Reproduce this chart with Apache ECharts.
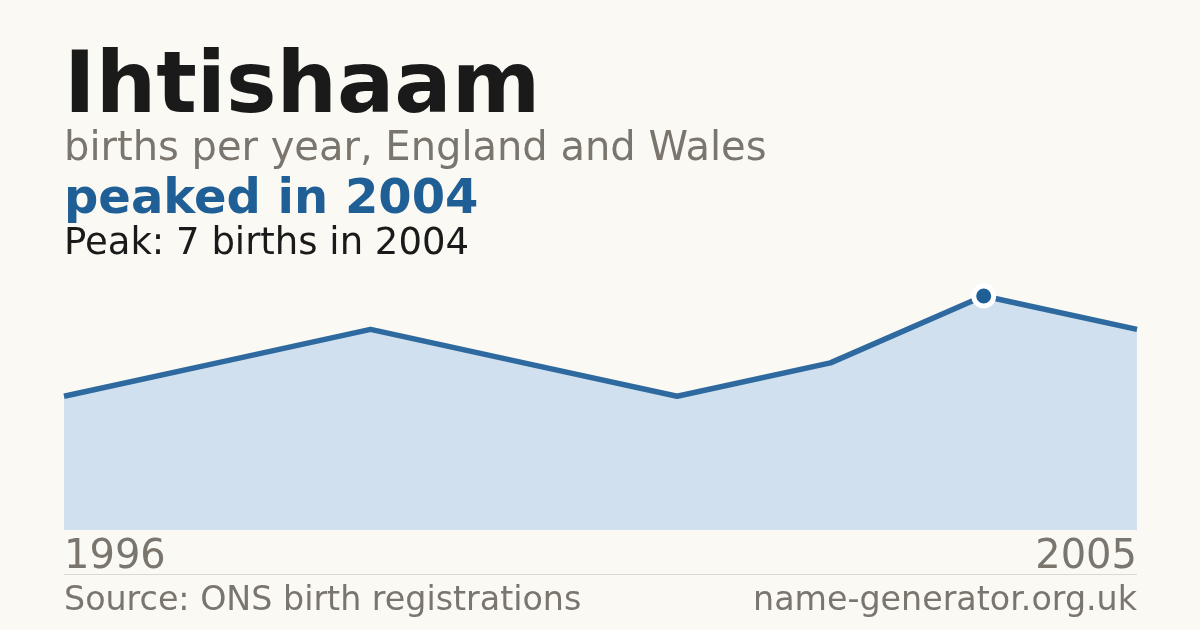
<!DOCTYPE html>
<html>
<head>
<meta charset="utf-8">
<script src="https://cdn.jsdelivr.net/npm/echarts@6/dist/echarts.min.js"></script>
<style>
    html, body { margin: 0; padding: 0; background: #faf9f4; }
    #chart { width: 1200px; height: 630px; }
</style>
</head>
<body>
<div id="chart"></div>
<script>
    // 数据
    var years = ['1996', '1997', '1998', '1999', '2000', '2003', '2004', '2005'];
    var births = [4, 5, 6, 5, 4, 5, 7, 6];
    var peakYear = '2004';
    var peakValue = 7;

    var font = 'DejaVu Sans';
    var chart = echarts.init(document.getElementById('chart'));

    var option = {
        backgroundColor: '#faf9f4',
        animation: false,
        grid: {
            left: 64,
            right: 63,
            top: 296,
            bottom: 100
        },
        xAxis: {
            type: 'category',
            data: years,
            boundaryGap: false,
            axisLine: { show: false },
            axisTick: { show: false },
            splitLine: { show: false },
            axisLabel: {
                show: true,
                interval: function (index) {
                    return index === 0 || index === years.length - 1;
                },
                alignMinLabel: 'left',
                alignMaxLabel: 'right',
                color: '#7a756d',
                fontFamily: font,
                fontSize: 40,
                margin: 8
            }
        },
        yAxis: {
            type: 'value',
            min: 0,
            max: peakValue,
            show: false
        },
        graphic: [
            {
                type: 'text',
                left: 64,
                top: 47,
                style: {
                    text: 'Ihtishaam',
                    font: 'bold 85px "DejaVu Sans"',
                    fill: '#1a1a1a'
                }
            },
            {
                type: 'text',
                left: 64,
                top: 130,
                style: {
                    text: 'births per year, England and Wales',
                    font: '40px "DejaVu Sans"',
                    fill: '#7a756d'
                }
            },
            {
                type: 'text',
                left: 64,
                top: 177,
                style: {
                    text: 'peaked in ' + peakYear,
                    font: 'bold 48px "DejaVu Sans"',
                    fill: '#1f5f96'
                }
            },
            {
                type: 'text',
                left: 64,
                top: 226,
                style: {
                    text: 'Peak: ' + peakValue + ' births in ' + peakYear,
                    font: '37px "DejaVu Sans"',
                    fill: '#1a1a1a'
                }
            },
            {
                type: 'rect',
                shape: { x: 64, y: 574, width: 1073, height: 1 },
                style: { fill: '#dcd9d0' }
            },
            {
                type: 'text',
                left: 64,
                top: 585,
                style: {
                    text: 'Source: ONS birth registrations',
                    font: '33.3px "DejaVu Sans"',
                    fill: '#7a756d'
                }
            },
            {
                type: 'text',
                right: 63,
                top: 585,
                style: {
                    text: 'name-generator.org.uk',
                    font: '33.3px "DejaVu Sans"',
                    fill: '#7a756d'
                }
            }
        ],
        series: [{
            type: 'line',
            data: births,
            smooth: false,
            symbol: 'none',
            clip: false,
            lineStyle: {
                color: '#2e6aa0',
                width: 5.5
            },
            areaStyle: {
                color: '#d0e0ef',
                opacity: 1
            },
            markPoint: {
                symbol: 'circle',
                symbolSize: 20,
                label: { show: false },
                itemStyle: {
                    color: '#1f5f96',
                    borderColor: '#ffffff',
                    borderWidth: 5
                },
                data: [{ coord: [peakYear, peakValue] }]
            }
        }]
    };
    chart.setOption(option);
</script>
</body>
</html>
